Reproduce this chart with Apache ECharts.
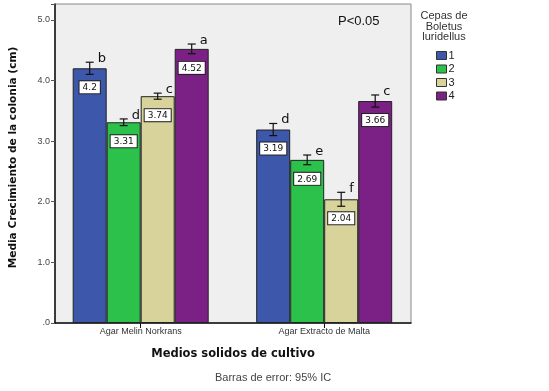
<!DOCTYPE html>
<html>
<head>
<meta charset="utf-8">
<script src="https://cdn.jsdelivr.net/npm/echarts@6/dist/echarts.min.js"></script>
<style>
  html, body { margin: 0; padding: 0; background: #fff; }
  #chart { width: 549px; height: 391px; }
</style>
</head>
<body>
<div id="chart"></div>
<script>
// medios de cultivo
const categories = ['Agar Melin Norkrans', 'Agar Extracto de Malta'];
const strains = ['1', '2', '3', '4'];
const colors = ['#3d57aa', '#2cc14b', '#d7d39b', '#7b2185'];

// medias por cepa (una fila por cepa, una columna por medio)
const means = [
    [4.2, 3.19],
    [3.31, 2.69],
    [3.74, 2.04],
    [4.52, 3.66]
];
// semiamplitud del IC 95%
const errors = [
    [0.10, 0.10],
    [0.055, 0.08],
    [0.05, 0.115],
    [0.08, 0.10]
];
// letras de significancia
const letters = [
    ['b', 'd'],
    ['d', 'e'],
    ['c', 'f'],
    ['a', 'c']
];

const barWidth = 34;
const catIdx = categories.map(function (c, j) { return j; });

const series = [];
strains.forEach(function (s, i) {
    series.push({
        name: s,
        type: 'bar',
        barWidth: barWidth,
        barGap: '0%',
        data: means[i].map(function (m, j) { return [j, m]; }),
        itemStyle: { color: colors[i], borderColor: '#222', borderWidth: 1 },
        label: {
            show: true,
            position: 'insideTop',
            distance: 13,
            formatter: function (p) { return String(p.value[1]); },
            fontSize: 9,
            fontFamily: 'DejaVu Sans',
            color: '#111',
            backgroundColor: '#fff',
            borderColor: '#222',
            borderWidth: 1,
            padding: [2, 3, 1, 3]
        },
        z: 2
    });
});

// barras de error + letras
strains.forEach(function (s, i) {
    const data = means[i].map(function (m, j) {
        return [j, m - errors[i][j], m + errors[i][j], letters[i][j]];
    });
    series.push({
        name: s + '-err',
        type: 'custom',
        data: data,
        z: 5,
        renderItem: function (params, api) {
            const off = (i - 1.5) * barWidth;
            const lo = api.coord([api.value(0), api.value(1)]);
            const hi = api.coord([api.value(0), api.value(2)]);
            const x = lo[0] + off;
            const cap = 4;
            const st = { stroke: '#111', lineWidth: 1.2 };
            return {
                type: 'group',
                children: [
                    { type: 'line', shape: { x1: x, y1: lo[1], x2: x, y2: hi[1] }, style: st },
                    { type: 'line', shape: { x1: x - cap, y1: lo[1], x2: x + cap, y2: lo[1] }, style: st },
                    { type: 'line', shape: { x1: x - cap, y1: hi[1], x2: x + cap, y2: hi[1] }, style: st },
                    {
                        type: 'text',
                        style: {
                            text: data[params.dataIndex][3],
                            x: x + 8, y: hi[1] + 3,
                            verticalAlign: 'bottom',
                            font: '13px "DejaVu Sans"',
                            fill: '#111'
                        }
                    }
                ]
            };
        }
    });
});

const chart = echarts.init(document.getElementById('chart'));
chart.setOption({
    animation: false,
    grid: {
        left: 54, top: 4, width: 357, height: 319,
        show: true, backgroundColor: '#efefef', borderColor: '#888', borderWidth: 1
    },
    legend: {
        data: strains,
        orient: 'vertical',
        left: 431, top: 45,
        itemWidth: 10, itemHeight: 8, itemGap: 2.5,
        icon: 'rect',
        itemStyle: { borderColor: '#333', borderWidth: 1 },
        textStyle: { fontSize: 11, fontFamily: 'Liberation Sans', color: '#222', padding: [0, 0, 0, -3] }
    },
    xAxis: {
        type: 'value',
        min: -0.467, max: 1.473,
        name: 'Medios solidos de cultivo',
        nameLocation: 'middle',
        nameGap: 25,
        nameTextStyle: { fontSize: 11.5, fontWeight: 'bold', fontFamily: 'DejaVu Sans', color: '#111' },
        axisLine: { onZero: false, lineStyle: { color: '#111', width: 1.5 } },
        axisTick: { customValues: catIdx, length: 5, lineStyle: { color: '#111' } },
        splitLine: { show: false },
        axisLabel: {
            customValues: catIdx,
            formatter: function (v) { return categories[Math.round(v)] || ''; },
            fontSize: 9, fontFamily: 'Liberation Sans', color: '#333', margin: 4
        }
    },
    yAxis: {
        type: 'value',
        min: 0, max: 5.26, interval: 1,
        name: 'Media Crecimiento de la colonia (cm)',
        nameLocation: 'middle',
        nameGap: 36,
        nameTextStyle: { fontSize: 10.6, fontWeight: 'bold', fontFamily: 'DejaVu Sans', color: '#111', padding: [0, 0, 0, 12] },
        axisLine: { show: true, onZero: false, lineStyle: { color: '#111', width: 1.5 } },
        axisTick: { show: true, length: 4, lineStyle: { color: '#555' } },
        splitLine: { show: false },
        axisLabel: {
            fontSize: 9, fontFamily: 'Liberation Sans', color: '#444', margin: 5,
            formatter: function (v) {
                if (Math.abs(v - Math.round(v)) > 1e-6) return '';
                return v === 0 ? '.0' : v.toFixed(1);
            }
        }
    },
    graphic: [
        {
            type: 'text', left: 338, top: 15,
            style: { text: 'P<0.05', font: '13px "Liberation Sans"', fill: '#111' }
        },
        {
            type: 'text', x: 444, y: 11,
            style: {
                text: 'Cepas de\nBoletus\nluridellus', align: 'center',
                font: '11px "Liberation Sans"', fill: '#333', lineHeight: 10.5
            }
        },
        {
            type: 'text', left: 215, top: 372,
            style: { text: 'Barras de error: 95% IC', font: '11px "Liberation Sans"', fill: '#444' }
        }
    ],
    series: series
});
</script>
</body>
</html>
